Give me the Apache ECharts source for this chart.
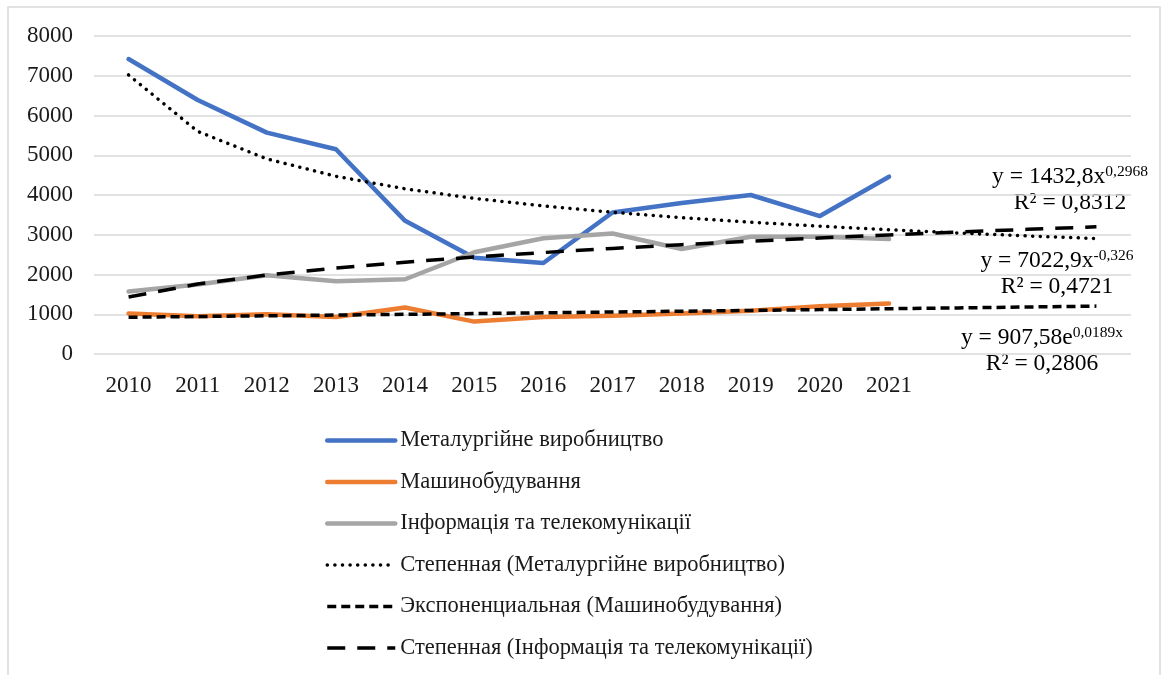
<!DOCTYPE html>
<html>
<head>
<meta charset="utf-8">
<script src="https://cdn.jsdelivr.net/npm/echarts@6/dist/echarts.min.js"></script>
<style>
  html, body { margin: 0; padding: 0; background: #fff; }
  #chart { width: 1163px; height: 675px; }
</style>
</head>
<body>
<div id="chart"></div>
<script>
// роки (останні три - прогноз лінії тренду, без підписів)
const years = ['2010', '2011', '2012', '2013', '2014', '2015', '2016', '2017', '2018', '2019', '2020', '2021', '2022', '2023', '2024'];
const labelledYears = 12;

const metallurgy = [7420, 6390, 5570, 5150, 3350, 2420, 2290, 3560, 3800, 4000, 3470, 4460];
const machinery = [1020, 950, 1000, 930, 1170, 815, 930, 960, 1020, 1090, 1200, 1270];
const infoTelecom = [1570, 1750, 1980, 1830, 1880, 2560, 2910, 3030, 2640, 2950, 2950, 2890];

// лінії тренду
const trendMetallurgy = [7020, 5600, 4910, 4470, 4155, 3915, 3725, 3565, 3430, 3315, 3215, 3125, 3045, 2970, 2905];
const trendMachinery = [925, 943, 961, 979, 998, 1017, 1036, 1056, 1076, 1096, 1117, 1139, 1160, 1182, 1205];
const trendInfo = [1433, 1760, 1985, 2162, 2310, 2439, 2553, 2656, 2751, 2838, 2919, 2996, 3068, 3136, 3201];

const names = [
  'Металургійне виробництво',
  'Машинобудування',
  'Інформація та телекомунікації',
  'Степенная (Металургійне виробництво)',
  'Экспоненциальная (Машинобудування)',
  'Степенная (Інформація та телекомунікації)'
];

const serif = '"Liberation Serif", "DejaVu Serif", serif';
const ink = '#1a1a1a';

const chart = echarts.init(document.getElementById('chart'));

function dataLine(name, data, color) {
  return {
    name, type: 'line', data, symbol: 'none', z: 2,
    lineStyle: { color, width: 4.5, cap: 'round', join: 'round' },
    itemStyle: { color }
  };
}

function trendLine(name, data, width, dash, cap) {
  return {
    name, type: 'line', data, symbol: 'none', z: 3,
    lineStyle: { color: '#000', width, type: dash, cap },
    itemStyle: { color: '#000' }
  };
}

const eqRich = {
  t: { fontFamily: serif, fontSize: 23.5, color: ink, lineHeight: 25 },
  s: { fontFamily: serif, fontSize: 15.5, color: ink, verticalAlign: 'top', padding: [0, 0, 10, 0] }
};

function equation(x, y, base, sup, r2) {
  return {
    type: 'text', x, y,
    style: {
      text: '{t|' + base + '}{s|' + sup + '}\n{t|R² = ' + r2 + '}',
      rich: eqRich,
      align: 'center',
      verticalAlign: 'top'
    }
  };
}

const series = [
  dataLine(names[0], metallurgy, '#4472C4'),
  dataLine(names[1], machinery, '#ED7D31'),
  dataLine(names[2], infoTelecom, '#A5A5A5'),
  trendLine(names[3], trendMetallurgy, 3.5, [0.1, 7.5], 'round'),
  trendLine(names[4], trendMachinery, 3.5, [9, 5], 'butt'),
  trendLine(names[5], trendInfo, 3.5, [18, 12], 'butt')
];

const option = {
  animation: false,
  backgroundColor: '#fff',
  grid: { left: 94, right: 32, top: 36, bottom: 321 },
  xAxis: {
    type: 'category',
    data: years,
    boundaryGap: true,
    axisLine: { show: false },
    axisTick: { show: false },
    axisLabel: {
      margin: 20,
      fontFamily: serif, fontSize: 23, color: ink,
      formatter: (v, i) => (i < labelledYears ? v : '')
    }
  },
  yAxis: {
    type: 'value',
    min: 0, max: 8000, interval: 1000,
    axisLine: { show: false },
    axisTick: { show: false },
    axisLabel: { margin: 21, fontFamily: serif, fontSize: 23, color: ink, formatter: v => String(v) },
    splitLine: { lineStyle: { color: '#d9d9d9', width: 1.5 } }
  },
  legend: {
    orient: 'vertical',
    left: 320, top: 424, height: 260,
    itemWidth: 68, itemHeight: 14, itemGap: 18.5,
    itemStyle: { opacity: 0 },
    textStyle: { fontFamily: serif, fontSize: 22.5, color: ink },
    data: series.map(s => ({
      name: s.name,
      lineStyle: { color: s.lineStyle.color, width: s.lineStyle.width, type: s.lineStyle.type, cap: s.lineStyle.cap }
    }))
  },
  graphic: [
    {
      type: 'rect', shape: { x: 8, y: 7, width: 1152, height: 700 },
      style: { fill: 'none', stroke: '#d9d9d9', lineWidth: 1.5 }, z: -1
    },
    equation(1070, 164, 'y = 1432,8x', '0,2968', '0,8312'),
    equation(1057, 248, 'y = 7022,9x', '-0,326', '0,4721'),
    equation(1042, 325, 'y = 907,58e', '0,0189x', '0,2806')
  ],
  series
};

chart.setOption(option);
</script>
</body>
</html>
